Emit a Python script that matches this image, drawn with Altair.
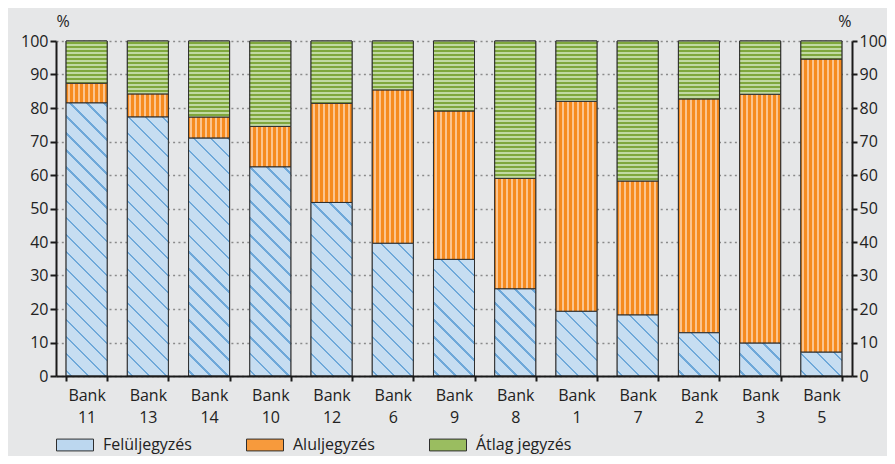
import math
import altair as alt
import pandas as pd

# ---- data ----
banks = ["Bank 11", "Bank 13", "Bank 14", "Bank 10", "Bank 12", "Bank 6", "Bank 9",
         "Bank 8", "Bank 1", "Bank 7", "Bank 2", "Bank 3", "Bank 5"]
over = [81.5, 77.3, 71.0, 62.4, 51.8, 39.6, 34.8, 26.0, 19.3, 18.2, 12.9, 9.8, 7.1]
under = [5.9, 6.9, 6.3, 12.1, 29.6, 45.8, 44.3, 33.0, 62.7, 40.0, 69.8, 74.3, 87.5]
avg = [12.6, 15.8, 22.7, 25.5, 18.6, 14.6, 20.9, 41.0, 18.0, 41.8, 17.3, 15.9, 5.4]
series_names = ["Felüljegyzés", "Aluljegyzés", "Átlag jegyzés"]
y_ticks = list(range(0, 101, 10))

rows = []
for i, b in enumerate(banks):
    start = 0.0
    for s, vals in zip(series_names, [over, under, avg]):
        v = vals[i]
        rows.append({"bank": b, "series": s, "value": v, "start": start, "end": start + v})
        start += v
df = pd.DataFrame(rows)

# ---- layout / style ----
W, H = 796, 335
PAD_IN, PAD_OUT = 0.33, 0.165
step = W / (len(banks) - PAD_IN + 2 * PAD_OUT)
bar_w = step * (1 - PAD_IN)

FONT = "Open Sans"
FS = 16
TXT = "#222222"
EDGE = "#2e2e2e"
AX = "#1a1a1a"
BG = "#e6e7e8"

BLUE_BG, BLUE_FG = "#c6ddf1", "#6ea8d9"
ORANGE_BG, ORANGE_FG = "#f68b1f", "#fbc48f"
GREEN_BG, GREEN_FG = "#c1d9a2", "#7fa73d"
legend_colors = ["#bcd7ef", "#f79a3c", "#9abd60"]

x_scale = alt.Scale(domain=banks, paddingInner=PAD_IN, paddingOuter=PAD_OUT)
y_scale = alt.Scale(domain=[0, 100], nice=False)


def stripe_stops(span, period, width, bg, fg, phase=0.0):
    stops = [alt.GradientStop(offset=0, color=bg)]
    pos = phase
    while pos < span:
        a = round(max(pos / span, 0.0), 5)
        b_ = round(min((pos + width) / span, 1.0), 5)
        stops += [alt.GradientStop(offset=a, color=bg), alt.GradientStop(offset=a, color=fg),
                  alt.GradientStop(offset=b_, color=fg), alt.GradientStop(offset=b_, color=bg)]
        pos += period
    stops.append(alt.GradientStop(offset=1, color=bg))
    return stops


x_axis = alt.Axis(labelAngle=0, labelExpr="split(datum.label, ' ')", labelLineHeight=22,
                  tickBand="extent", tickSize=5, tickWidth=2, tickColor=AX,
                  domainWidth=2, domainColor=AX, labelPadding=6, zindex=1, grid=False)

left_axis = alt.Axis(values=y_ticks, title="%", titleAngle=0, titleAlign="left",
                     titleBaseline="alphabetic", titleX=0, titleY=-15, titleFontWeight="normal",
                     grid=True, gridDash=[2, 3.3], gridColor="#8a8a8a", gridWidth=1.3,
                     tickSize=6, tickWidth=2, tickColor=AX, domainWidth=2,
                     domainColor=AX, labelPadding=2, labelOverlap=False)

right_axis = alt.Axis(values=y_ticks, orient="right", title="%", titleAngle=0, titleAlign="right",
                      titleBaseline="alphabetic", titleX=-1, titleY=-15, titleFontWeight="normal",
                      grid=False, tickSize=5, tickWidth=2, tickColor=AX, domainWidth=2,
                      domainColor=AX, labelPadding=2, labelOverlap=False)

legend = alt.Legend(title=None, orient="none", legendX=0, legendY=385, direction="horizontal",
                    columns=3, symbolType="M-1,-0.32L1,-0.32L1,0.32L-1,0.32Z", symbolSize=1369,
                    symbolStrokeColor=EDGE, symbolStrokeWidth=1, labelOffset=9, columnPadding=52,
                    labelFontSize=FS, labelFont=FONT, labelColor=TXT, padding=0, symbolOpacity=1)

base = alt.Chart(df).mark_bar(stroke=EDGE, strokeWidth=1).encode(
    x=alt.X("bank:N", scale=x_scale, title=None, axis=x_axis),
    y=alt.Y("start:Q", scale=y_scale, axis=left_axis),
    y2="end:Q",
    color=alt.Color("series:N", scale=alt.Scale(domain=series_names, range=legend_colors),
                    legend=legend),
)


def overlay(filt, grad):
    return (
        alt.Chart(df).transform_filter(filt)
        .mark_bar(fill=grad, stroke=EDGE, strokeWidth=1)
        .encode(x=alt.X("bank:N", scale=x_scale, title=None, axis=x_axis),
                y=alt.Y("start:Q", scale=y_scale, axis=left_axis), y2="end:Q")
    )


overlays = []
# orange: vertical stripes, same for every bar
orange_grad = alt.LinearGradient(gradient="linear",
                                 stops=stripe_stops(bar_w, 5.0, 2.0, ORANGE_BG, ORANGE_FG, 1.5),
                                 x1=0, y1=0, x2=1, y2=0)
overlays.append(overlay(alt.datum.series == series_names[1], orange_grad))

for i, b in enumerate(banks):
    # blue diagonal hatch
    h = over[i] * H / 100.0
    span = (bar_w + h) / math.sqrt(2)
    s = bar_w * (bar_w + h) / (bar_w ** 2 + h ** 2)
    blue_grad = alt.LinearGradient(gradient="linear",
                                   stops=stripe_stops(span, 12.0, 1.7, BLUE_BG, BLUE_FG, 3.0),
                                   x1=0, y1=1, x2=round(s, 5), y2=round(1 - s * h / bar_w, 5))
    overlays.append(overlay((alt.datum.bank == b) & (alt.datum.series == series_names[0]), blue_grad))
    # green horizontal stripes
    hg = avg[i] * H / 100.0
    green_grad = alt.LinearGradient(gradient="linear",
                                    stops=stripe_stops(hg, 4.0, 2.0, GREEN_BG, GREEN_FG, 1.0),
                                    x1=0, y1=0, x2=0, y2=1)
    overlays.append(overlay((alt.datum.bank == b) & (alt.datum.series == series_names[2]), green_grad))

bars = alt.layer(base, *overlays)

right = alt.Chart(df).mark_bar(opacity=0).encode(
    x=alt.X("bank:N", scale=x_scale, title=None, axis=x_axis),
    y=alt.Y("end:Q", scale=y_scale, axis=right_axis),
)

chart = (
    alt.layer(bars, right)
    .resolve_scale(y="independent")
    .properties(width=W, height=H, autosize=alt.AutoSizeParams(type="none"),
                padding={"left": 48, "top": 33, "right": 35, "bottom": 80}, background=BG)
    .configure(font=FONT)
    .configure_view(strokeWidth=0)
    .configure_axis(labelFont=FONT, titleFont=FONT, labelColor=TXT, titleColor=TXT,
                    labelFontSize=FS, titleFontSize=FS)
)

chart.save("out.html", embed_options={"renderer": "svg", "actions": False})
